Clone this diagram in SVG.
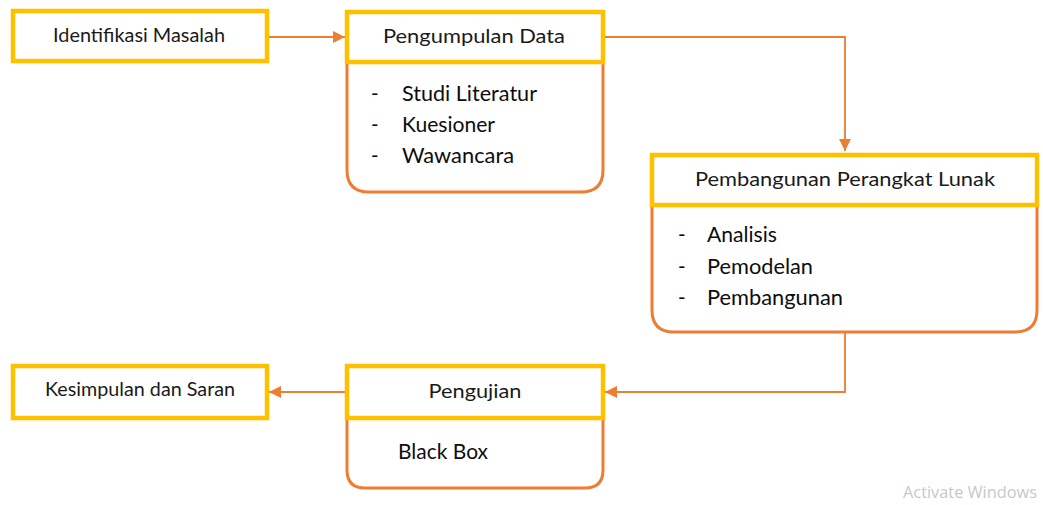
<svg xmlns="http://www.w3.org/2000/svg" width="1043" height="505" viewBox="0 0 1043 505">
<style>
.hdr{fill:#ffffff;stroke:#FFC000;stroke-width:4.5}
.body{fill:#ffffff;stroke:#ED7D31;stroke-width:3}
.conn{fill:none;stroke:#ED7D31;stroke-width:1.8}
.t{font-family:Lato,"Liberation Sans",sans-serif;font-size:19.5px;fill:#1a1a1a}
.i{font-family:Lato,"Liberation Sans",sans-serif;font-size:20.5px;fill:#0d0d0d}
.c{text-anchor:middle}
.wm{font-family:"Open Sans","Liberation Sans",sans-serif;font-size:16px;fill:#c8c8c8}
</style>
<defs>
<marker id="ah" markerUnits="userSpaceOnUse" markerWidth="14" markerHeight="12" refX="12" refY="6" orient="auto">
<path d="M0,0 L12,6 L0,12 Z" fill="#ED7D31"/>
</marker>
</defs>
<rect width="1043" height="505" fill="#ffffff"/>
<g id="connectors">
<path class="conn" d="M267,37 H345" marker-end="url(#ah)"/>
<path class="conn" d="M603,37 H845 V151" marker-end="url(#ah)"/>
<path class="conn" d="M845,332 V392 H605" marker-end="url(#ah)"/>
<path class="conn" d="M347,392 H269" marker-end="url(#ah)"/>
</g>
<g id="identifikasi">
<rect class="hdr" x="13" y="11" width="254" height="50"/>
<text class="t c" x="139" y="42" textLength="172" lengthAdjust="spacingAndGlyphs">Identifikasi Masalah</text>
</g>
<g id="pengumpulan">
<path class="body" d="M347,62 V170 Q347,192 369,192 H581 Q603,192 603,170 V62"/>
<rect class="hdr" x="347" y="12" width="256" height="50"/>
<text class="t c" x="474" y="43" textLength="182" lengthAdjust="spacingAndGlyphs">Pengumpulan Data</text>
<text class="i" x="371" y="101">-</text><text class="i" x="402" y="101" textLength="135" lengthAdjust="spacingAndGlyphs">Studi Literatur</text>
<text class="i" x="371" y="132">-</text><text class="i" x="402" y="132" textLength="93" lengthAdjust="spacingAndGlyphs">Kuesioner</text>
<text class="i" x="371" y="163">-</text><text class="i" x="402" y="163" textLength="112" lengthAdjust="spacingAndGlyphs">Wawancara</text>
</g>
<g id="pembangunan">
<path class="body" d="M652,205 V310 Q652,332 674,332 H1015 Q1037,332 1037,310 V205"/>
<rect class="hdr" x="652" y="155" width="385" height="50"/>
<text class="t c" x="845" y="186" textLength="300" lengthAdjust="spacingAndGlyphs">Pembangunan Perangkat Lunak</text>
<text class="i" x="678" y="242">-</text><text class="i" x="707" y="242" textLength="70" lengthAdjust="spacingAndGlyphs">Analisis</text>
<text class="i" x="678" y="274">-</text><text class="i" x="707" y="274" textLength="106" lengthAdjust="spacingAndGlyphs">Pemodelan</text>
<text class="i" x="678" y="305">-</text><text class="i" x="707" y="305" textLength="136" lengthAdjust="spacingAndGlyphs">Pembangunan</text>
</g>
<g id="pengujian">
<path class="body" d="M347,418 V470 Q347,488 365,488 H585 Q603,488 603,470 V418"/>
<rect class="hdr" x="347" y="366" width="256" height="52"/>
<text class="t c" x="475" y="398" textLength="93" lengthAdjust="spacingAndGlyphs">Pengujian</text>
<text class="i" x="398" y="459" textLength="90" lengthAdjust="spacingAndGlyphs">Black Box</text>
</g>
<g id="kesimpulan">
<rect class="hdr" x="13" y="366" width="254" height="52"/>
<text class="t c" x="140" y="396" textLength="190" lengthAdjust="spacingAndGlyphs">Kesimpulan dan Saran</text>
</g>
<text class="wm" x="903" y="498" textLength="134" lengthAdjust="spacingAndGlyphs">Activate Windows</text>
</svg>
